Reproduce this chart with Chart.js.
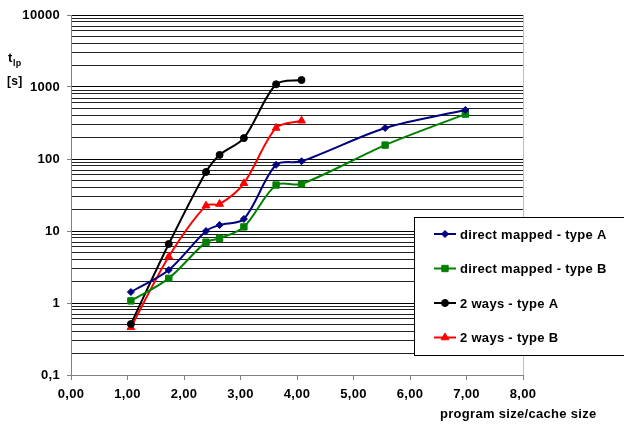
<!DOCTYPE html>
<html>
<head>
<meta charset="utf-8">
<script src="https://cdn.jsdelivr.net/npm/chart.js@4/dist/chart.umd.min.js"></script>
<style>
  html, body { margin: 0; padding: 0; background: #fff; }
  #wrap { width: 624px; height: 430px; position: relative; }
</style>
</head>
<body>
<div id="wrap"><canvas id="chart"></canvas></div>
<script>
// datos
const xValues = [1.06, 1.73, 2.39, 2.63, 3.06, 3.63, 4.08, 5.56, 6.98];
const directA = [1.42, 2.87, 10, 12.1, 14.7, 83, 93, 270, 480];
const directB = [1.07, 2.2, 7.0, 7.9, 11.4, 43.5, 45, 156, 420];
const waysA = [0.51, 6.6, 66, 114, 195, 1090, 1250];
const waysB = [0.46, 4.4, 22.5, 23.7, 46, 270, 340];

const seriesNames = [
  "direct mapped - type A",
  "direct mapped - type B",
  "2 ways - type A",
  "2 ways - type B",
];
const xTickLabels = ["0,00", "1,00", "2,00", "3,00", "4,00", "5,00", "6,00", "7,00", "8,00"];
const yDecades = [0.1, 1, 10, 100, 1000, 10000];
const yTickLabels = ["0,1", "1", "10", "100", "1000", "10000"];

const FONT = "'Liberation Sans', Arial, sans-serif";
const SPACING = "0.3px";

const puntos = (ys) => ys.map((y, i) => ({ x: xValues[i], y: y }));

// marcas de la rejilla: 1..9 por decada
const yGrid = [];
yDecades.forEach((d, i) => {
  if (i === yDecades.length - 1) { yGrid.push(d); return; }
  for (let k = 1; k <= 9; k++) yGrid.push(+(d * k).toPrecision(3));
});
const esDecada = (v) => yDecades.some((d) => Math.abs(d - v) < 1e-9);

// leyenda con caja y titulos de ejes
const extras = {
  id: "extras",
  beforeDraw(chart) {
    chart.ctx.letterSpacing = SPACING;
  },
  afterDraw(chart) {
    const { ctx, chartArea } = chart;
    ctx.save();
    ctx.letterSpacing = SPACING;
    // borde derecho gris
    ctx.strokeStyle = "#c0c0c0";
    ctx.lineWidth = 1;
    ctx.beginPath();
    ctx.moveTo(Math.round(chartArea.right) + 0.5, chartArea.top);
    ctx.lineTo(Math.round(chartArea.right) + 0.5, chartArea.bottom);
    ctx.stroke();

    // titulos
    ctx.fillStyle = "#000";
    ctx.textBaseline = "alphabetic";
    ctx.textAlign = "left";
    ctx.font = "bold 13px " + FONT;
    ctx.fillText("t", 8, 62);
    ctx.font = "bold 9px " + FONT;
    ctx.fillText("lp", 13, 66);
    ctx.font = "bold 12px " + FONT;
    ctx.fillText("[s]", 7, 85);
    ctx.font = "bold 13px " + FONT;
    ctx.fillText("program size/cache size", 440, 418);

    // caja de leyenda
    ctx.fillStyle = "#fff";
    ctx.fillRect(414, 217, 220, 138);
    ctx.strokeStyle = "#000";
    ctx.strokeRect(414.5, 217.5, 220, 138);

    chart.data.datasets.forEach((ds, i) => {
      const y = 234 + i * 34.5;
      ctx.strokeStyle = ds.borderColor;
      ctx.lineWidth = 2;
      ctx.beginPath();
      ctx.moveTo(434, y);
      ctx.lineTo(456, y);
      ctx.stroke();
      ctx.fillStyle = ds.pointBackgroundColor;
      ctx.lineWidth = 1;
      Chart.helpers.drawPoint(ctx, {
        pointStyle: ds.pointStyle,
        radius: ds.pointRadius,
        rotation: 0,
        borderWidth: 1,
      }, 445, y);
      ctx.fillStyle = "#000";
      ctx.font = "bold 13px " + FONT;
      ctx.textBaseline = "middle";
      ctx.fillText(ds.label, 460, y + 1);
    });
    ctx.restore();
  },
};

const serie = (label, data, color, style, radius) => ({
  label: label,
  data: puntos(data),
  borderColor: color,
  backgroundColor: color,
  pointBackgroundColor: color,
  pointBorderColor: color,
  pointStyle: style,
  pointRadius: radius,
  pointBorderWidth: 1,
  borderWidth: 2,
  tension: 0.3,
});

const ctx = document.getElementById("chart").getContext("2d");
new Chart(ctx, {
  type: "line",
  data: {
    datasets: [
      serie(seriesNames[0], directA, "#000080", "rectRot", 3.5),
      serie(seriesNames[1], directB, "#008000", "rect", 4.5),
      serie(seriesNames[2], waysA, "#000000", "circle", 3.5),
      serie(seriesNames[3], waysB, "#ff0000", "triangle", 4.5),
    ],
  },
  options: {
    responsive: true,
    maintainAspectRatio: false,
    animation: false,
    layout: { padding: { top: 15, right: 101, bottom: 0, left: 0 } },
    plugins: { legend: { display: false }, tooltip: { enabled: false } },
    scales: {
      x: {
        type: "linear",
        min: 0,
        max: 8,
        afterBuildTicks: (s) => { s.ticks = xTickLabels.map((_, i) => ({ value: i })); },
        afterFit: (s) => { s.height = 55; },
        ticks: {
          color: "#000",
          font: { family: FONT, size: 13, weight: "bold" },
          padding: 7,
          maxRotation: 0,
          callback: (v) => xTickLabels[v],
        },
        grid: { drawOnChartArea: false, color: "#808080", tickLength: 5 },
        border: { color: "#808080" },
      },
      y: {
        type: "logarithmic",
        min: 0.1,
        max: 10000,
        afterBuildTicks: (s) => { s.ticks = yGrid.map((v) => ({ value: v })); },
        afterFit: (s) => { s.width = 71; },
        ticks: {
          color: "#000",
          font: { family: FONT, size: 13, weight: "bold" },
          padding: 7,
          autoSkip: false,
          callback: (v) => {
            const i = yDecades.findIndex((d) => Math.abs(d - v) < 1e-9);
            return i >= 0 ? yTickLabels[i] : "";
          },
        },
        grid: {
          color: (c) => (c.tick && esDecada(c.tick.value) ? "#000" : "#222"),
          tickColor: (c) => (c.tick && esDecada(c.tick.value) ? "#808080" : "rgba(0,0,0,0)"),
          tickLength: 4,
          lineWidth: 1,
        },
        border: { color: "#808080" },
      },
    },
  },
  plugins: [extras],
});
</script>
</body>
</html>
